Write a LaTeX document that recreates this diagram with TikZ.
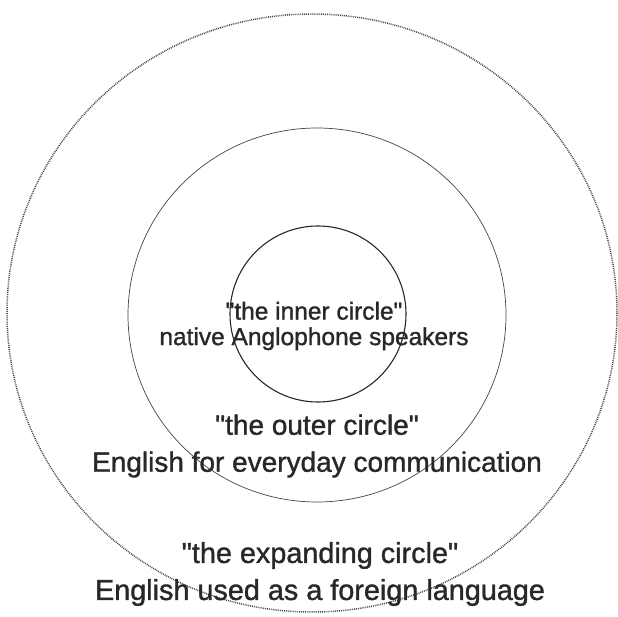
\documentclass[tikz,border=0pt]{standalone}
\usepackage{fontspec}
\setmainfont{Liberation Sans}
\newfontfamily\heavysans{Liberation Sans}[FakeBold=1.2]
\usepackage{xcolor}
\definecolor{inkGray}{RGB}{42,40,38}
\definecolor{ringGray}{RGB}{70,68,66}
\usepackage{tikz}
\usetikzlibrary{positioning,calc}
\tikzstyle{ring}=[draw=ringGray, line width=0.9pt]
\tikzstyle{label}=[text=inkGray, align=center, inner sep=0pt]
\newcommand{\qt}[1]{\textquotedbl#1\textquotedbl}

\begin{document}
\begin{tikzpicture}[x=1pt,y=-1pt]
        \useasboundingbox (0,0) rectangle (618,617);
        % the three circles
        \draw[ring, densely dotted, line width=1.5pt] (312,313) ellipse [x radius=305, y radius=299];
        \draw[ring, line width=0.7pt] (317,315) ellipse [x radius=189, y radius=187];
        \draw[ring, line width=1.1pt, draw=inkGray] (318,314) circle [radius=88];
        % texts
        \node[label, font={\heavysans\fontsize{24.5}{25.5}\selectfont}] (inner) at (314,326)
          {\qt{the inner circle}\\native Anglophone speakers};
        \node[label, font={\heavysans\fontsize{28}{37}\selectfont}] (outer) at (317,446)
          {\qt{the outer circle}\\English for everyday communication};
        \node[label, font={\heavysans\fontsize{28.8}{37}\selectfont}] (expanding) at (320,574)
          {\qt{the expanding circle}\\English used as a foreign language};
      \end{tikzpicture}
\end{document}
